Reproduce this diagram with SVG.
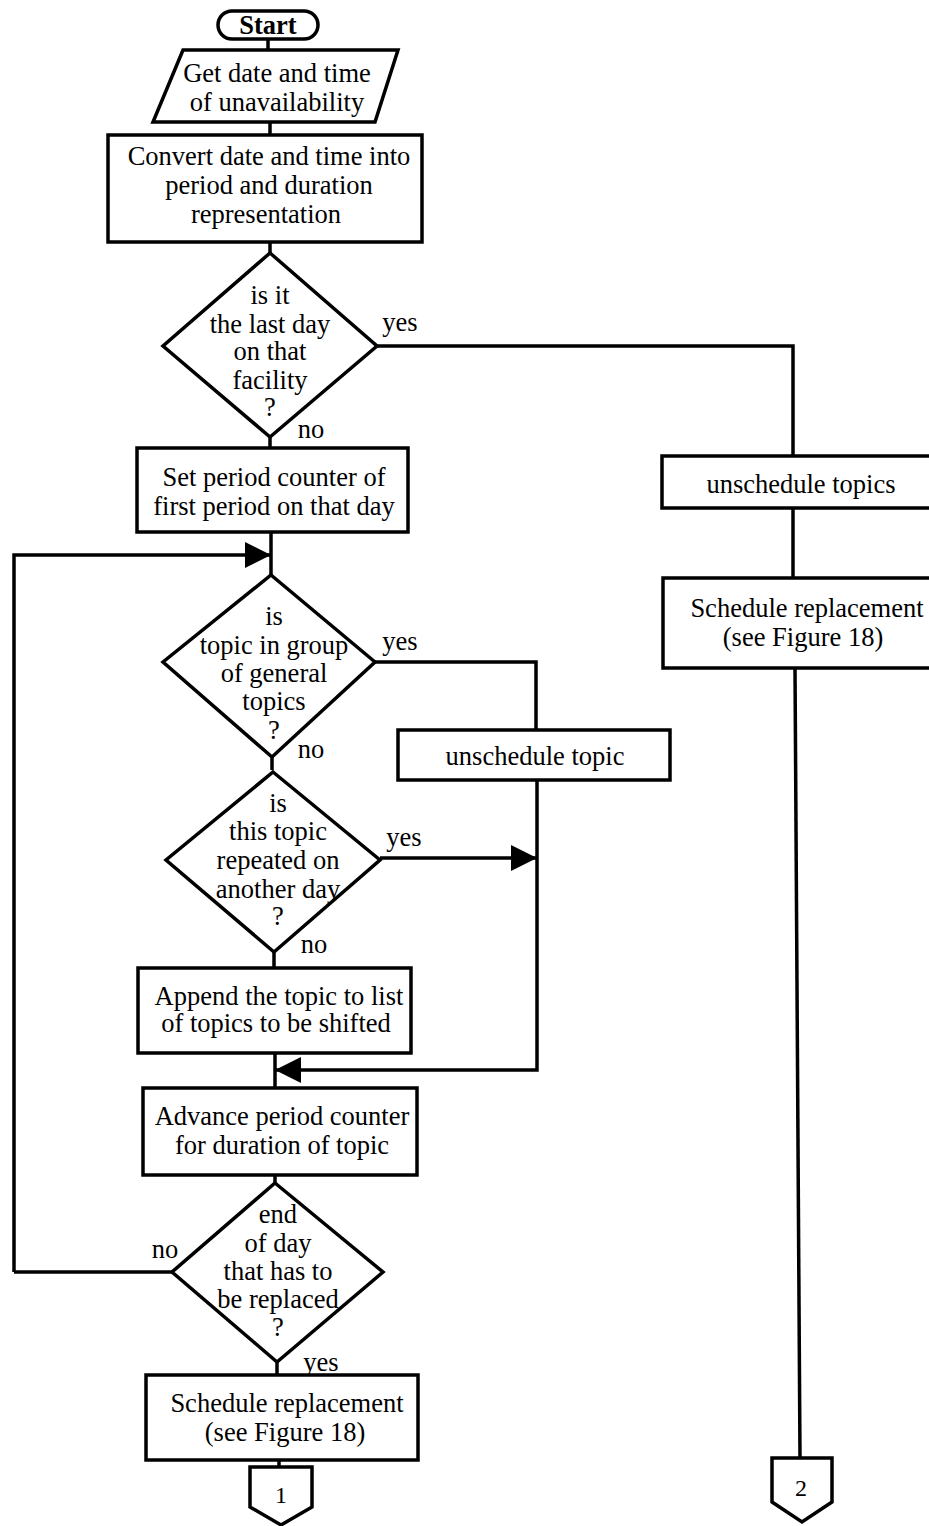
<svg xmlns="http://www.w3.org/2000/svg" width="929" height="1526" viewBox="0 0 929 1526">
<style>
.s{fill:#fff;stroke:#000;stroke-width:3.5;stroke-linejoin:miter}
.c{fill:none;stroke:#000;stroke-width:3.5}
text{font-family:"Liberation Serif","Times New Roman",serif;font-size:26.5px;fill:#000;text-anchor:middle}
.b{font-weight:bold}
</style>
<defs>
<marker id="ah" viewBox="0 0 10 10" refX="10" refY="5" markerWidth="32" markerHeight="26" markerUnits="userSpaceOnUse" orient="auto">
<path d="M0,0 L10,5 L0,10 Z" fill="#000"/>
</marker>
</defs>
<rect width="929" height="1526" fill="#fff"/>
<g id="connectors">
<path class="c" d="M268,38 V50"/>
<path class="c" d="M270,122 V135"/>
<path class="c" d="M270,242 V253"/>
<path class="c" d="M270,437 V448"/>
<path class="c" d="M377,346 H793 V456"/>
<path class="c" d="M793,508 V578"/>
<path class="c" d="M795,668 L800,1458"/>
<path class="c" d="M271,532 V575"/>
<path class="c" d="M14,1272 V555 H271" marker-end="url(#ah)"/>
<path class="c" d="M172,1272 H14"/>
<path class="c" d="M272,757 V770"/>
<path class="c" d="M375,662 H536 V730"/>
<path class="c" d="M380,858 H537" marker-end="url(#ah)"/>
<path class="c" d="M537,780 V1070 H275" marker-end="url(#ah)"/>
<path class="c" d="M274,950 V968"/>
<path class="c" d="M275,1053 V1088"/>
<path class="c" d="M275,1175 V1183"/>
<path class="c" d="M277,1362 V1375"/>
<path class="c" d="M279,1460 V1467"/>
</g>
<g id="start">
<rect class="s" x="218" y="11" width="100" height="28" rx="14" ry="14"/>
<text class="b" x="268" y="34">Start</text>
</g>
<g id="input">
<polygon class="s" points="183,50 398,50 375,122 153,122"/>
<text x="277" y="82">Get date and time</text>
<text x="277" y="111">of unavailability</text>
</g>
<g id="convert">
<rect class="s" x="108" y="135" width="314" height="107"/>
<text x="269" y="165">Convert date and time into</text>
<text x="269" y="194">period and duration</text>
<text x="266" y="223">representation</text>
</g>
<g id="d1">
<polygon class="s" points="270,253 377,346 270,437 163,346"/>
<text x="270" y="304">is it</text>
<text x="270" y="333">the last day</text>
<text x="270" y="360">on that</text>
<text x="270" y="389">facility</text>
<text x="270" y="416">?</text>
<text x="400" y="331">yes</text>
<text x="311" y="438">no</text>
</g>
<g id="setperiod">
<rect class="s" x="137" y="448" width="271" height="84"/>
<text x="274" y="486">Set period counter of</text>
<text x="274" y="515">first period on that day</text>
</g>
<g id="unschedtopics">
<rect class="s" x="662" y="456" width="270" height="52"/>
<text x="801" y="493">unschedule topics</text>
</g>
<g id="schedrep2">
<rect class="s" x="663" y="578" width="269" height="90"/>
<text x="807" y="617">Schedule replacement</text>
<text x="803" y="646">(see Figure 18)</text>
</g>
<g id="d2">
<polygon class="s" points="271,575 375,662 272,757 163,662"/>
<text x="274" y="625">is</text>
<text x="274" y="654">topic in group</text>
<text x="274" y="682">of general</text>
<text x="274" y="710">topics</text>
<text x="274" y="739">?</text>
<text x="400" y="650">yes</text>
<text x="311" y="758">no</text>
</g>
<g id="unschedtopic">
<rect class="s" x="398" y="730" width="272" height="50"/>
<text x="535" y="765">unschedule topic</text>
</g>
<g id="d3">
<polygon class="s" points="273,772 380,860 274,952 166,860"/>
<text x="278" y="812">is</text>
<text x="278" y="840">this topic</text>
<text x="278" y="869">repeated on</text>
<text x="278" y="898">another day</text>
<text x="278" y="925">?</text>
<text x="404" y="846">yes</text>
<text x="314" y="953">no</text>
</g>
<g id="append">
<rect class="s" x="138" y="968" width="273" height="85"/>
<text x="279" y="1005">Append the topic to list</text>
<text x="276" y="1032">of topics to be shifted</text>
</g>
<g id="advance">
<rect class="s" x="143" y="1088" width="274" height="87"/>
<text x="282" y="1125">Advance period counter</text>
<text x="282" y="1154">for duration of topic</text>
</g>
<g id="d4">
<polygon class="s" points="275,1183 383,1272 277,1362 172,1272"/>
<text x="278" y="1223">end</text>
<text x="278" y="1252">of day</text>
<text x="278" y="1280">that has to</text>
<text x="278" y="1308">be replaced</text>
<text x="278" y="1336">?</text>
<text x="165" y="1258">no</text>
<text x="321" y="1371">yes</text>
</g>
<g id="schedrep1">
<rect class="s" x="146" y="1375" width="272" height="85"/>
<text x="287" y="1412">Schedule replacement</text>
<text x="285" y="1441">(see Figure 18)</text>
</g>
<g id="conn1">
<polygon class="s" points="250,1467 312,1467 312,1507 281,1525 250,1507"/>
<text x="281" y="1503" style="font-size:24px">1</text>
</g>
<g id="conn2">
<polygon class="s" points="772,1458 832,1458 832,1502 802,1522 772,1502"/>
<text x="801" y="1496" style="font-size:24px">2</text>
</g>
</svg>
